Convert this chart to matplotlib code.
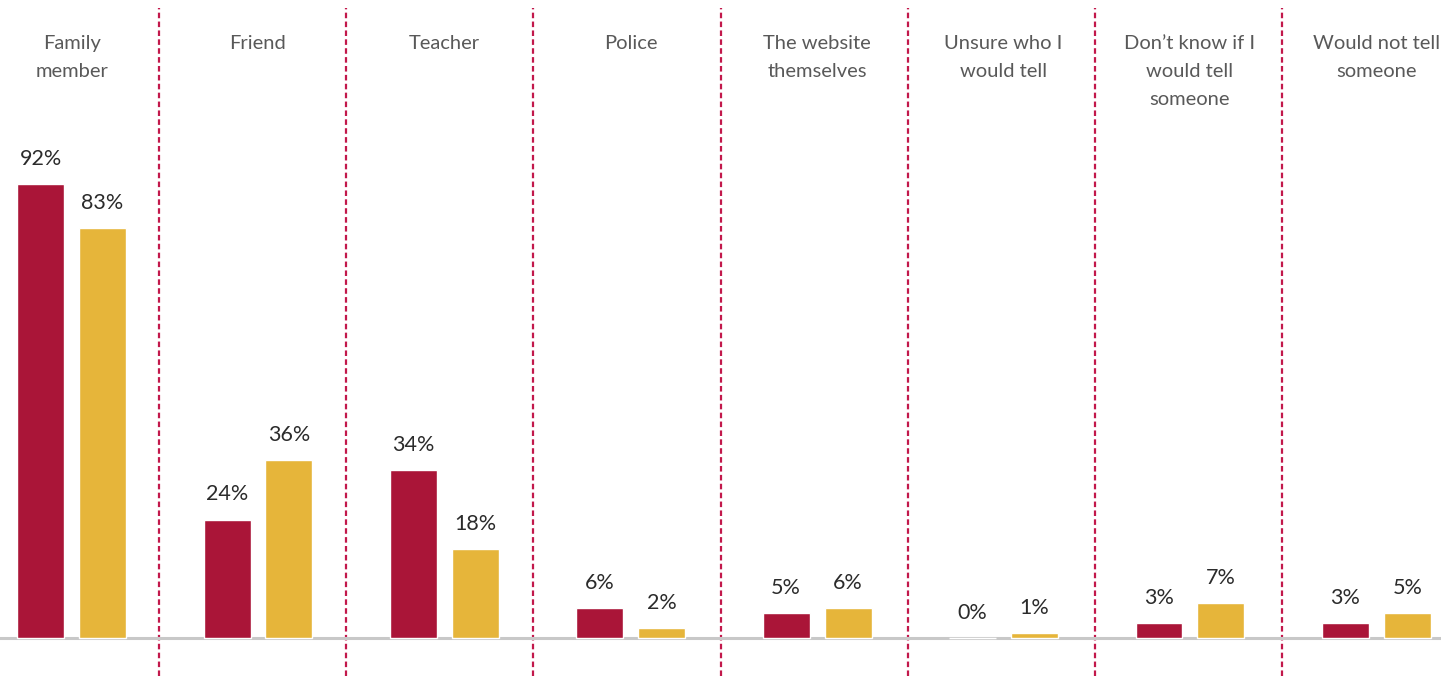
import matplotlib
matplotlib.use('Agg')
import matplotlib.pyplot as plt

categories = ['Family\nmember', 'Friend', 'Teacher', 'Police', 'The website\nthemselves',
              'Unsure who I\nwould tell', 'Don\u2019t know if I\nwould tell\nsomeone', 'Would not tell\nsomeone']
series1 = [92, 24, 34, 6, 5, 0, 3, 3]
series2 = [83, 36, 18, 2, 6, 1, 7, 5]

red = '#AA1538'
gold = '#E6B53A'
plt.rcParams['font.family'] = ['Lato', 'DejaVu Sans']

fig = plt.figure(figsize=(14.41, 6.76), dpi=100)
ax = fig.add_axes([0, 0, 1, 1])

w = 0.252
off = 0.166
xs = list(range(len(categories)))
b1 = ax.bar([x - off for x in xs], series1, width=w, color=red, edgecolor='white', linewidth=1, zorder=3)
b2 = ax.bar([x + off for x in xs], series2, width=w, color=gold, edgecolor='white', linewidth=1, zorder=3)

for bars, vals in ((b1, series1), (b2, series2)):
    for b, v in zip(bars, vals):
        ax.annotate(f'{v}%', (b.get_x() + b.get_width() / 2, v), xytext=(0, 11),
                    textcoords='offset points', ha='center', va='bottom',
                    fontsize=15.5, color='#2b2b2b')

ax.axhline(0, color='#C8C8C8', lw=2.2, zorder=2)

for i in range(len(categories) - 1):
    ax.vlines(i + 0.47 + 0.004 * i, -7.7, 127.7, color='#C2184B', lw=1.6, ls=(0, (2.5, 1.5)), zorder=1)

for x, c in zip(xs, categories):
    ax.text(x, 122.3, c, ha='center', va='top', fontsize=14.5, color='#595959', linespacing=1.8)

ax.set_xlim(-0.384, 7.347)
ax.set_ylim(-7.7, 129.3)
ax.axis('off')

fig.savefig('out.png', dpi=100)
